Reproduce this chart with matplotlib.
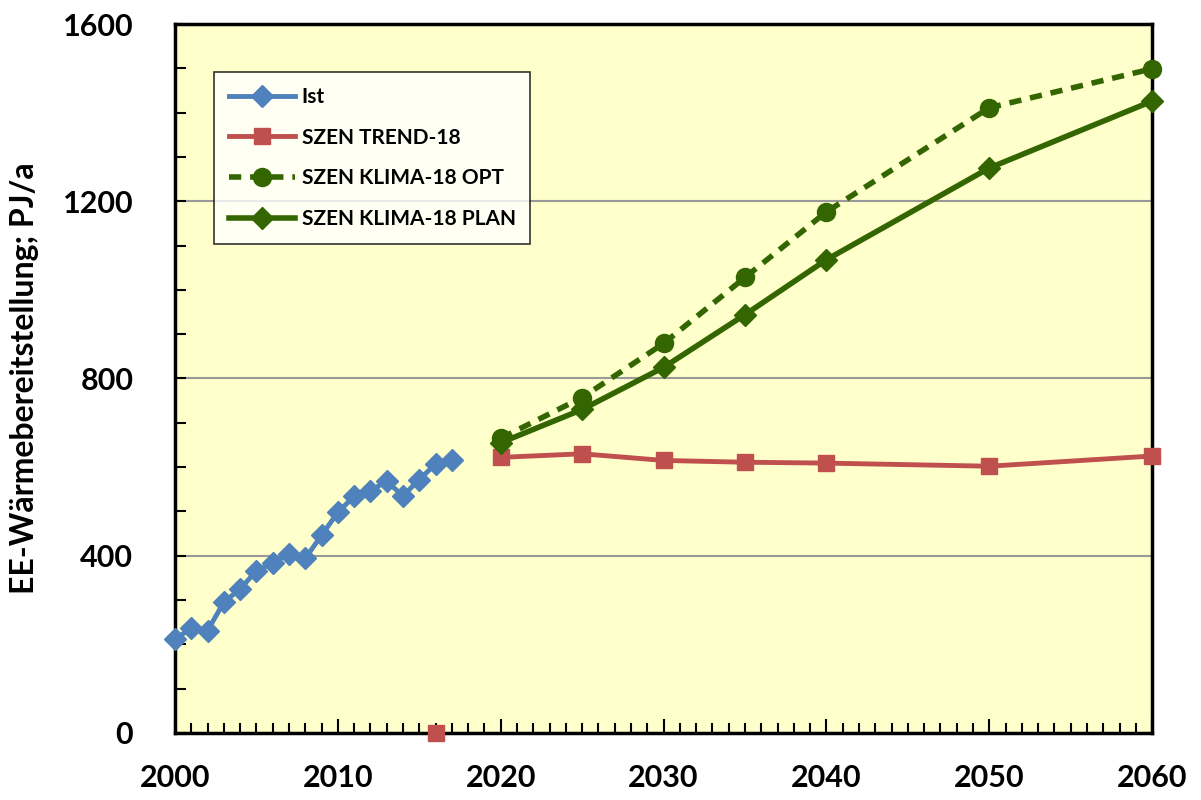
import numpy as np
import matplotlib.pyplot as plt
from matplotlib.ticker import MultipleLocator

# Data
ist_years = list(range(2000, 2018))
ist_vals = [212, 236, 231, 295, 325, 366, 383, 405, 394, 446,
            498, 534, 547, 568, 535, 572, 607, 617]

scen_years = [2020, 2025, 2030, 2035, 2040, 2050, 2060]
trend_vals = [622, 630, 615, 611, 609, 602, 625]
opt_vals = [665, 757, 879, 1028, 1176, 1411, 1499]
plan_vals = [655, 730, 825, 944, 1068, 1275, 1426]

# odd single point of the trend series at 2016 (value 0)
trend_extra_year = [2016]
trend_extra_val = [0]

x_ticks = [2000, 2010, 2020, 2030, 2040, 2050, 2060]
y_ticks = [0, 400, 800, 1200, 1600]

plt.rcParams['font.family'] = ['Lato', 'DejaVu Sans']
plt.rcParams['font.weight'] = 'bold'

blue = '#4F81BD'
red = '#C0504D'
green = '#336600'

fig = plt.figure(figsize=(12.01, 8), dpi=100)
ax = fig.add_axes([0.1457, 0.0838, 0.9593 - 0.1457, 0.97 - 0.0838])
ax.set_facecolor('#FFFFCC')

ax.plot(ist_years, ist_vals, color=blue, lw=3.5, marker='D', ms=11,
        label='Ist', zorder=3, clip_on=False)
ax.plot(scen_years, trend_vals, color=red, lw=3.5, marker='s', ms=11,
        label='SZEN TREND-18', zorder=3, clip_on=False)
ax.plot(trend_extra_year, trend_extra_val, color=red, lw=0, marker='s', ms=11,
        zorder=4, clip_on=False)
ax.plot(scen_years, opt_vals, color=green, lw=4, ls=(0, (2.2, 1.6)), marker='o',
        ms=13, label='SZEN KLIMA-18 OPT', zorder=3, clip_on=False)
ax.plot(scen_years, plan_vals, color=green, lw=4, marker='D', ms=11,
        label='SZEN KLIMA-18 PLAN', zorder=3, clip_on=False)

ax.set_xlim(2000, 2060)
ax.set_ylim(0, 1600)
ax.set_xticks(x_ticks)
ax.set_yticks(y_ticks)
ax.xaxis.set_minor_locator(MultipleLocator(1))
ax.yaxis.set_minor_locator(MultipleLocator(100))
ax.grid(axis='y', which='major', color='#999999', lw=1.5, zorder=1)

ax.tick_params(axis='both', which='both', direction='in', color='black',
               width=1.5, labelsize=22)
ax.tick_params(axis='x', which='major', length=10, pad=22)
ax.tick_params(axis='x', which='minor', length=7)
ax.tick_params(axis='y', which='major', length=8, pad=30)
ax.tick_params(axis='y', which='minor', length=8)
for lab in ax.get_xticklabels() + ax.get_yticklabels():
    lab.set_fontweight('bold')

for sp in ax.spines.values():
    sp.set_linewidth(2.5)
    sp.set_color('black')

ax.set_ylabel('EE-Wärmebereitstellung; PJ/a', fontsize=23, fontweight='bold',
              labelpad=17)

leg = ax.legend(loc='upper left', bbox_to_anchor=(0.040, 0.932),
                borderaxespad=0, fontsize=15, frameon=True, fancybox=False,
                edgecolor='black', handlelength=3.2, labelspacing=1.0,
                borderpad=0.7, handletextpad=0.3)
leg.get_frame().set_linewidth(1.2)
for t in leg.get_texts():
    t.set_fontweight('bold')

fig.savefig('out.png', dpi=100)
